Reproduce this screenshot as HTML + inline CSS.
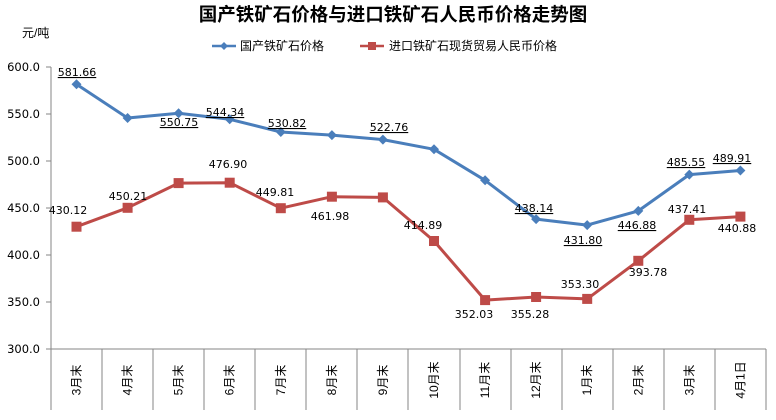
<!DOCTYPE html>
<html><head><meta charset="utf-8"><style>
body{margin:0;background:#fff}
svg{display:block}
.t{font-family:"DejaVu Sans","Liberation Sans",sans-serif;font-size:11px;fill:#000;text-anchor:middle}
.u{text-decoration:underline}
.ax{font-family:"DejaVu Sans","Liberation Sans",sans-serif;font-size:11.5px;fill:#000;text-anchor:end}
.xl{font-family:"Liberation Sans","Noto Sans CJK SC",sans-serif;font-size:12px;fill:#000;text-anchor:middle}
</style></head><body>
<svg width="776" height="420" xmlns="http://www.w3.org/2000/svg">
<text x="393" y="21" text-anchor="middle" style="font-family:'Noto Sans CJK SC',sans-serif;font-weight:bold;font-size:18.5px">国产铁矿石价格与进口铁矿石人民币价格走势图</text>
<text x="22" y="37" style="font-family:'Liberation Sans','Noto Sans CJK SC',sans-serif;font-size:12px">元/吨</text>
<line x1="212" y1="46" x2="236" y2="46" stroke="#4a7ebb" stroke-width="2.5"/>
<polygon points="224,42 228,46 224,50 220,46" fill="#4a7ebb"/>
<text x="240" y="50" style="font-family:'Noto Sans CJK SC',sans-serif;font-size:12px">国产铁矿石价格</text>
<line x1="360" y1="46" x2="384" y2="46" stroke="#be4b48" stroke-width="2.5"/>
<rect x="368" y="42" width="8" height="8" fill="#be4b48"/>
<text x="389" y="50" style="font-family:'Noto Sans CJK SC',sans-serif;font-size:12px">进口铁矿石现货贸易人民币价格</text>
<g stroke="#868686" stroke-width="1">
<line x1="51" y1="67" x2="51" y2="410"/>
<line x1="51" y1="349" x2="766" y2="349"/>
<line x1="46" y1="67" x2="51" y2="67"/><line x1="46" y1="114" x2="51" y2="114"/><line x1="46" y1="161" x2="51" y2="161"/><line x1="46" y1="208" x2="51" y2="208"/><line x1="46" y1="255" x2="51" y2="255"/><line x1="46" y1="302" x2="51" y2="302"/><line x1="46" y1="349" x2="51" y2="349"/>
<line x1="102" y1="349" x2="102" y2="410"/><line x1="153" y1="349" x2="153" y2="410"/><line x1="204" y1="349" x2="204" y2="410"/><line x1="255" y1="349" x2="255" y2="410"/><line x1="306" y1="349" x2="306" y2="410"/><line x1="357" y1="349" x2="357" y2="410"/><line x1="408" y1="349" x2="408" y2="410"/><line x1="460" y1="349" x2="460" y2="410"/><line x1="511" y1="349" x2="511" y2="410"/><line x1="562" y1="349" x2="562" y2="410"/><line x1="613" y1="349" x2="613" y2="410"/><line x1="664" y1="349" x2="664" y2="410"/><line x1="715" y1="349" x2="715" y2="410"/><line x1="766" y1="349" x2="766" y2="410"/>
</g>
<text class="ax" x="40" y="71">600.0</text><text class="ax" x="40" y="118">550.0</text><text class="ax" x="40" y="165">500.0</text><text class="ax" x="40" y="212">450.0</text><text class="ax" x="40" y="259">400.0</text><text class="ax" x="40" y="306">350.0</text><text class="ax" x="40" y="353">300.0</text>
<g class="xl">
<text transform="translate(80.5,380) rotate(-90)">3月末</text>
<text transform="translate(131.6,380) rotate(-90)">4月末</text>
<text transform="translate(182.6,380) rotate(-90)">5月末</text>
<text transform="translate(233.7,380) rotate(-90)">6月末</text>
<text transform="translate(284.8,380) rotate(-90)">7月末</text>
<text transform="translate(335.9,380) rotate(-90)">8月末</text>
<text transform="translate(386.9,380) rotate(-90)">9月末</text>
<text transform="translate(438,380) rotate(-90)">10月末</text>
<text transform="translate(489.1,380) rotate(-90)">11月末</text>
<text transform="translate(540.1,380) rotate(-90)">12月末</text>
<text transform="translate(591.2,380) rotate(-90)">1月末</text>
<text transform="translate(642.3,380) rotate(-90)">2月末</text>
<text transform="translate(693.3,380) rotate(-90)">3月末</text>
<text transform="translate(744.4,380) rotate(-90)">4月1日</text>
</g>
<polyline fill="none" stroke="#4a7ebb" stroke-width="3" stroke-linejoin="round" points="76.5,84.2 127.6,118 178.6,113.3 229.7,119.3 280.8,132 331.9,135.1 382.9,139.6 434,149.3 485.1,180.3 536.1,219.1 587.2,225.1 638.3,210.9 689.3,174.6 740.4,170.5"/>
<g fill="#4a7ebb">
<polygon points="76.5,79.2 81.5,84.2 76.5,89.2 71.5,84.2"/><polygon points="127.6,113 132.6,118 127.6,123 122.6,118"/><polygon points="178.6,108.3 183.6,113.3 178.6,118.3 173.6,113.3"/><polygon points="229.7,114.3 234.7,119.3 229.7,124.3 224.7,119.3"/><polygon points="280.8,127 285.8,132 280.8,137 275.8,132"/><polygon points="331.9,130.1 336.9,135.1 331.9,140.1 326.9,135.1"/><polygon points="382.9,134.6 387.9,139.6 382.9,144.6 377.9,139.6"/><polygon points="434,144.3 439,149.3 434,154.3 429,149.3"/><polygon points="485.1,175.3 490.1,180.3 485.1,185.3 480.1,180.3"/><polygon points="536.1,214.1 541.1,219.1 536.1,224.1 531.1,219.1"/><polygon points="587.2,220.1 592.2,225.1 587.2,230.1 582.2,225.1"/><polygon points="638.3,205.9 643.3,210.9 638.3,215.9 633.3,210.9"/><polygon points="689.3,169.6 694.3,174.6 689.3,179.6 684.3,174.6"/><polygon points="740.4,165.5 745.4,170.5 740.4,175.5 735.4,170.5"/>
</g>
<polyline fill="none" stroke="#be4b48" stroke-width="3" stroke-linejoin="round" points="76.5,226.7 127.6,207.8 178.6,183.1 229.7,182.7 280.8,208.2 331.9,196.7 382.9,197.4 434,241 485.1,300.1 536.1,297 587.2,298.9 638.3,260.8 689.3,219.8 740.4,216.6"/>
<g fill="#be4b48">
<rect x="71.5" y="221.7" width="10" height="10"/><rect x="122.6" y="202.8" width="10" height="10"/><rect x="173.6" y="178.1" width="10" height="10"/><rect x="224.7" y="177.7" width="10" height="10"/><rect x="275.8" y="203.2" width="10" height="10"/><rect x="326.9" y="191.7" width="10" height="10"/><rect x="377.9" y="192.4" width="10" height="10"/><rect x="429" y="236" width="10" height="10"/><rect x="480.1" y="295.1" width="10" height="10"/><rect x="531.1" y="292" width="10" height="10"/><rect x="582.2" y="293.9" width="10" height="10"/><rect x="633.3" y="255.8" width="10" height="10"/><rect x="684.3" y="214.8" width="10" height="10"/><rect x="735.4" y="211.6" width="10" height="10"/>
</g>
<g class="t u">
<text x="77" y="76">581.66</text><text x="179" y="126">550.75</text><text x="225" y="116">544.34</text><text x="287" y="127">530.82</text><text x="389" y="131">522.76</text><text x="534" y="212">438.14</text><text x="583" y="244">431.80</text><text x="637" y="229">446.88</text><text x="686" y="166">485.55</text><text x="732" y="162">489.91</text>
</g>
<g class="t">
<text x="68" y="214">430.12</text><text x="128" y="200">450.21</text><text x="228" y="168">476.90</text><text x="275" y="196">449.81</text><text x="330" y="220">461.98</text><text x="423" y="229">414.89</text><text x="474" y="318">352.03</text><text x="530" y="318">355.28</text><text x="580" y="288">353.30</text><text x="648" y="276">393.78</text><text x="687" y="213">437.41</text><text x="737" y="232">440.88</text>
</g>
</svg>
</body></html>
